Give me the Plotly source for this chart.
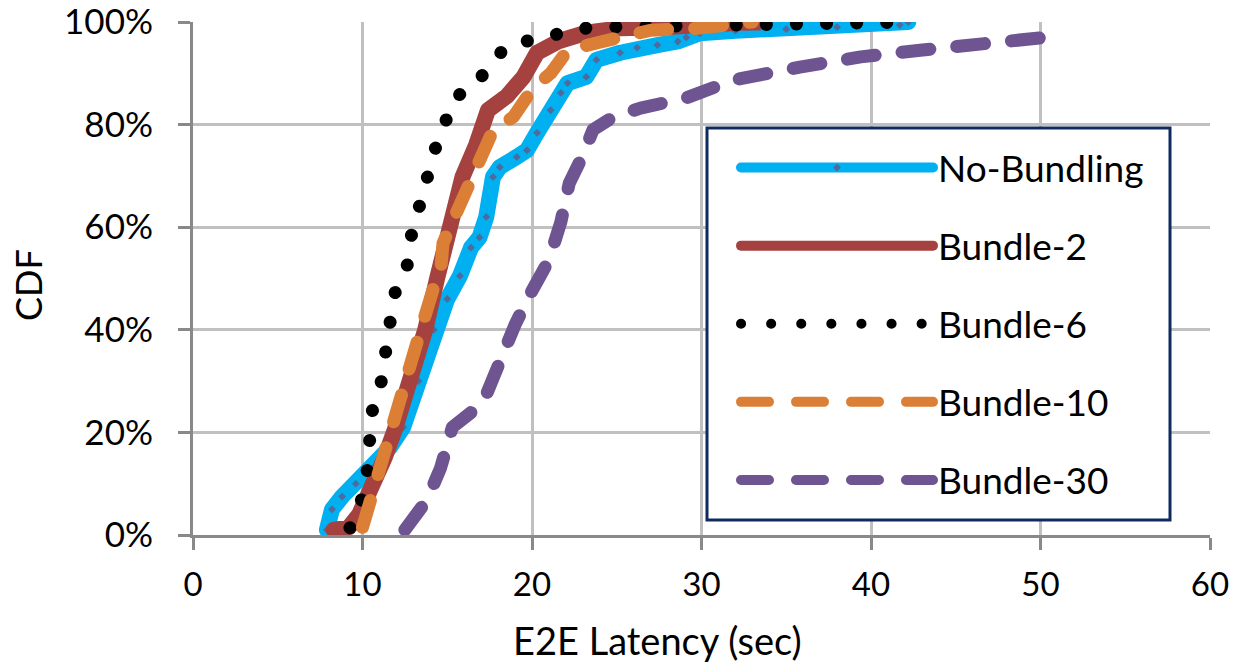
import plotly.graph_objects as go

# ---- data ----
nb_x = [7.9, 8.2, 8.8, 9.6, 10.6, 11.6, 12.4, 13.3, 14.2, 15.0, 15.75, 16.4, 16.9, 17.3, 17.7, 18.1,
        19.1, 19.7, 20.3, 21.1, 21.7, 22.1, 23.2, 23.8, 25.2, 26.2, 27.4, 28.6, 29.1, 29.9, 32.0, 35.0,
        38.0, 41.7, 42.2]
nb_y = [1, 5, 7.5, 10, 13, 17, 21, 30, 40, 46, 50.5, 56, 58, 62, 69.8, 71.7,
        73.7, 75, 78.4, 82.8, 86.2, 88.1, 89.3, 92.6, 94, 95, 95.5, 96.2, 97, 97.8, 98.3, 98.6,
        99, 99.4, 100]

b2_x = [8.3, 9.2, 9.8, 10.3, 10.8, 11.3, 11.9, 12.8, 13.7, 14.4, 15.0, 15.35, 15.9, 16.7,
        17.4, 18.5, 19.5, 20.3, 21.6, 23.2, 25.2, 28.0, 31.0, 33.0]
b2_y = [1, 1.5, 4, 7.5, 10.7, 15, 20.5, 30, 40, 50, 57.5, 63.4, 69.8, 76,
        82.8, 85.5, 89.3, 94, 96.3, 97.9, 98.8, 99.0, 99.3, 100]

b6_x = [9.26, 9.91, 10.27, 10.38, 10.56, 11.09, 11.27, 11.62, 11.92, 12.63, 12.86, 13.33, 13.86, 14.28,
        14.87, 15.40, 16.76, 17.58, 18.82, 20.6, 22.4, 24.1, 30.0, 36.0, 42.3]
b6_y = [1.4, 6.4, 12.3, 18.1, 24.0, 29.6, 35.5, 41.3, 47.2, 52.4, 58.1, 63.9, 69.4, 75.2,
        80.3, 85.2, 87.9, 92.4, 95.9, 96.7, 98.6, 99.0, 99.3, 99.6, 100]

b10_x = [10.0, 10.4, 11.2, 12.2, 13.2, 14.2, 14.6, 14.75, 16.3, 16.8, 17.7, 18.9, 20.1, 21.1, 22.1,
         23.8, 25.8, 27.0, 29.9, 32.7, 33.0]
b10_y = [1.5, 6.2, 16, 27.7, 37.4, 48.3, 51, 56.9, 68.6, 72.5, 78.9, 81.5, 87.3, 90, 94.5,
         95.9, 97.3, 98.4, 98.8, 99.8, 100]

b30_x = [12.5, 13.8, 14.6, 15.3, 17.1, 17.6, 18.4, 19.0, 19.9, 21.0, 21.7, 22.2, 23.0, 23.6, 24.8,
         26.4, 29.1, 31.9, 35.8, 39.4, 42.9, 46.4, 50.0, 51.1]
b30_y = [1, 6.8, 13, 21, 25.7, 30, 36, 41, 47, 53.6, 61, 68.6, 74, 79, 81.5,
         83.2, 85.2, 88.7, 91.2, 93.2, 94.5, 95.9, 96.9, 97]

x_ticks = [0, 10, 20, 30, 40, 50, 60]
y_ticks = [0, 20, 40, 60, 80, 100]
y_tick_text = ["0%", "20%", "40%", "60%", "80%", "100%"]

FONT = "Lato, 'Open Sans', sans-serif"
W, H = 1237, 665
L, R, T, B = 193, 27, 22, 130
PW, PH = W - L - R, H - T - B


def px_x(p):
    return (p - L) / PW


def px_y(p):
    return (H - B - p) / PH


fig = go.Figure()
fig.add_trace(go.Scatter(x=nb_x, y=nb_y, name="No-Bundling", mode="lines+markers",
                         line=dict(color="#00B0F0", width=16),
                         marker=dict(symbol="diamond", size=6, color="#4F6A9C"),
                         legendgroup="a"))
fig.add_trace(go.Scatter(x=b2_x, y=b2_y, name="Bundle-2", mode="lines",
                         line=dict(color="#A5423F", width=16),
                         legendgroup="b"))
fig.add_trace(go.Scatter(x=[b2_x[-1]], y=[b2_y[-1]], mode="markers", showlegend=False,
                         marker=dict(symbol="square", size=17, color="#A5423F")))
fig.add_trace(go.Scatter(x=b6_x, y=b6_y, name="Bundle-6", mode="lines",
                         line=dict(color="#000000", width=13, dash="0.1px,30px"),
                         legendgroup="c"))
fig.add_trace(go.Scatter(x=b10_x, y=b10_y, name="Bundle-10", mode="lines",
                         line=dict(color="#DC7F36", width=13, dash="28px,27px"),
                         legendgroup="d"))
fig.add_trace(go.Scatter(x=b30_x, y=b30_y, name="Bundle-30", mode="lines",
                         line=dict(color="#6E5490", width=13, dash="28px,27px"),
                         legendgroup="e"))

axis_common = dict(showline=True, linecolor="#898989", linewidth=3, automargin=False,
                   gridcolor="#C0C0C0", gridwidth=3, zeroline=False,
                   ticks="outside", ticklen=12, tickwidth=3, tickcolor="#898989",
                   ticklabeloverflow="allow")

fig.update_layout(
    width=W, height=H,
    margin=dict(l=L, r=R, t=T, b=B, autoexpand=False),
    plot_bgcolor="white", paper_bgcolor="white",
    font=dict(family=FONT, color="#000000"),
    xaxis=dict(range=[0, 60], tickvals=x_ticks, ticklabelstandoff=6,
               tickfont=dict(family=FONT, size=33, color="#000000"), **axis_common),
    yaxis=dict(range=[0, 100], tickvals=y_ticks, ticktext=y_tick_text, ticklabelstandoff=18,
               tickfont=dict(family=FONT, size=35, color="#000000"), **axis_common),
    showlegend=True,
    legend=dict(x=px_x(736), y=px_y(137), xanchor="left", yanchor="top",
                bgcolor="rgba(0,0,0,0)", borderwidth=0,
                font=dict(family=FONT, size=37, color="#000000"),
                itemwidth=192, tracegroupgap=27),
    shapes=[dict(type="rect", xref="paper", yref="paper",
                 x0=px_x(707), x1=px_x(1170), y0=px_y(520), y1=px_y(128),
                 line=dict(color="#0E2A5F", width=3), fillcolor="white", layer="above")],
    annotations=[
        dict(text="E2E Latency (sec)", xref="paper", yref="paper",
             x=px_x(657), y=px_y(640), xanchor="center", yanchor="middle",
             showarrow=False, font=dict(family=FONT, size=38)),
        dict(text="CDF", textangle=-90, xref="paper", yref="paper",
             x=px_x(28), y=px_y(285), xanchor="center", yanchor="middle",
             showarrow=False, font=dict(family=FONT, size=36)),
    ],
)

post = """
document.documentElement.style.margin = '0';
document.body.style.margin = '0';
document.body.style.padding = '0';
document.body.style.overflow = 'hidden';
var gd = document.getElementById('{plot_id}');
gd.querySelectorAll('path.js-line').forEach(function(p){
  p.style.strokeLinecap = 'round';
  p.style.strokeLinejoin = 'round';
});
"""
fig.write_html("out.html", post_script=post, config={"displayModeBar": False})
